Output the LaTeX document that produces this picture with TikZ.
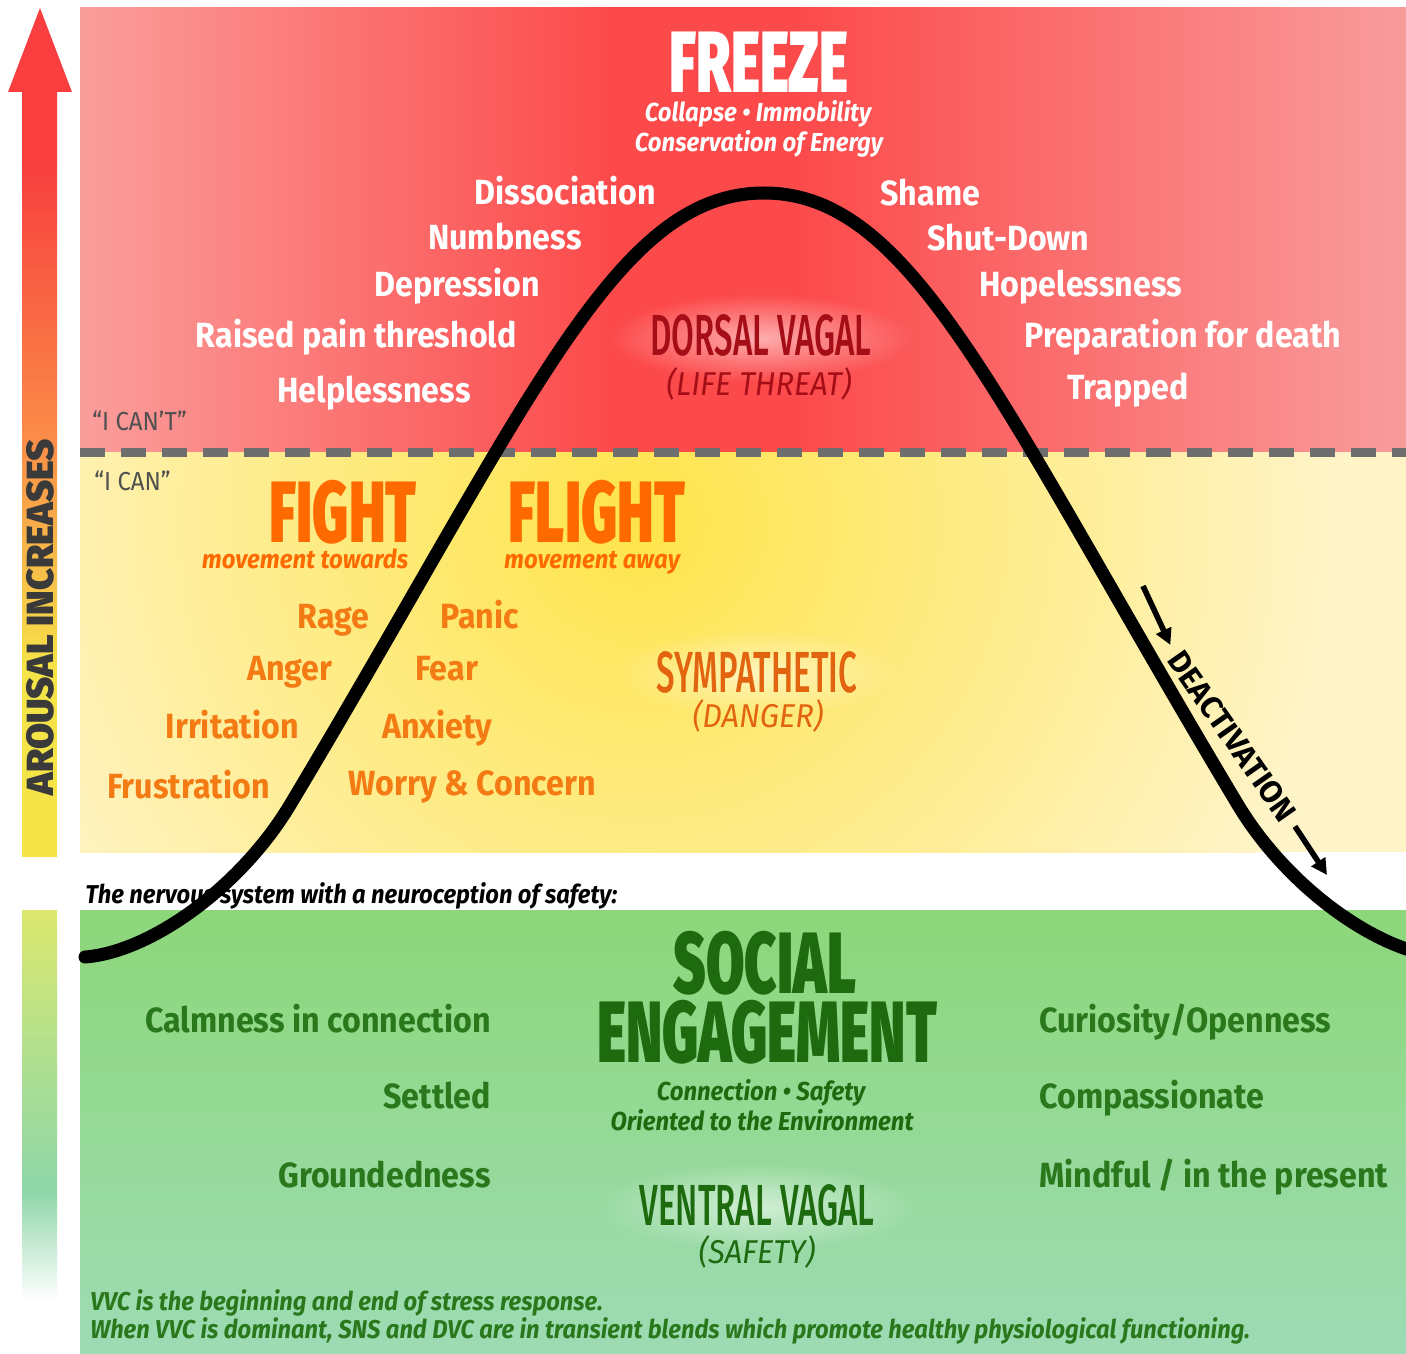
\documentclass[tikz,border=0pt]{standalone}
\usepackage{fontspec}
\setmainfont{Fira Sans}
\newfontfamily\listfont{Fira Sans}[FakeStretch=0.92]
\newfontfamily\heavyfont{Fira Sans Black}[FakeStretch=0.64]
\newfontfamily\vagalfont{Fira Sans Medium}[FakeStretch=0.57]
\newfontfamily\subfont{Fira Sans}[FakeStretch=0.93]
\newfontfamily\arousalfont{Fira Sans Black}
\usepackage{tikz}
\usetikzlibrary{arrows.meta,positioning,calc,fadings}

\definecolor{redSide}{HTML}{FA9E9B}
\definecolor{redCore}{HTML}{FC4A4B}
\definecolor{redSideR}{HTML}{F99C9C}
\definecolor{yelCore}{HTML}{FEE44A}
\definecolor{yelSide}{HTML}{FEF4C8}
\definecolor{grnTop}{HTML}{8DD77A}
\definecolor{grnBot}{HTML}{9DDBB4}
\definecolor{dashGrey}{HTML}{6E6E6E}
\definecolor{canGrey}{HTML}{505050}
\definecolor{dorsalRed}{HTML}{A50E16}
\definecolor{fightOrange}{HTML}{FF6A00}
\definecolor{sympList}{HTML}{F47A14}
\definecolor{sympTitle}{HTML}{E2640F}
\definecolor{calmDark}{HTML}{1D6A0F}
\definecolor{calmText}{HTML}{2A781C}
\definecolor{barRed}{HTML}{F83E3E}
\definecolor{barOrange}{HTML}{FA8A48}
\definecolor{barYellow}{HTML}{F5E448}
\definecolor{barTeal}{HTML}{8ED6A8}
\definecolor{barMid}{HTML}{B4E08C}
\definecolor{barLime}{HTML}{DCE86E}
\definecolor{arousalInk}{HTML}{3A3A3A}

\pgfdeclareverticalshading{arousalbar}{100bp}{color(0bp)=(barYellow); color(36bp)=(barYellow);
  color(50bp)=(barOrange); color(66bp)=(barRed); color(100bp)=(barRed)}
\pgfdeclareverticalshading{calmbar}{100bp}{color(0bp)=(white); color(25bp)=(white);
  color(39bp)=(barTeal); color(58bp)=(barMid); color(75bp)=(barLime); color(100bp)=(barLime)}
\pgfdeclarehorizontalshading{freezeband}{100bp}{color(0bp)=(redSide); color(25bp)=(redSide);
  color(45bp)=(redCore); color(52bp)=(redCore); color(75bp)=(redSideR); color(100bp)=(redSideR)}
\tikzfading[name=glowfade,inner color=transparent!0,outer color=transparent!100]

\begin{document}
\begin{tikzpicture}[x=0.5pt,y=-0.5pt,
  every node/.style={inner sep=0pt},
  arr/.style={line width=2.8pt,-{Triangle[length=8pt,width=8pt]}},
  glow/.style={white,fill opacity=0.55,path fading=glowfade}
]

\tikzstyle{whitelist}=[text=white,font=\listfont\bfseries\fontsize{17.5}{20}\selectfont]
\tikzstyle{orangelist}=[text=sympList,font=\listfont\bfseries\fontsize{17.5}{20}\selectfont]
\tikzstyle{greenlist}=[text=calmText,font=\listfont\bfseries\fontsize{17.5}{20}\selectfont]
\tikzset{bigtitle/.style={font=\heavyfont\fontsize{43.5}{48}\selectfont,anchor=base},
  vagal/.style={font=\vagalfont\fontsize{29}{32}\selectfont,anchor=base},
  vagalsub/.style={font=\subfont\itshape\fontsize{16.5}{19}\selectfont,anchor=base},
  titlesub/.style={font=\listfont\bfseries\itshape\fontsize{13}{15}\selectfont,anchor=base},
  note/.style={font=\listfont\bfseries\itshape\fontsize{12.9}{15}\selectfont,anchor=base west},
  cantext/.style={text=canGrey,font=\listfont\fontsize{13}{15}\selectfont,anchor=base west}}

\useasboundingbox (0,0) rectangle (1406,1353);
\fill[white] (0,0) rectangle (1406,1353);

% side bars
\shade[shading=arousalbar] (40,8) -- (72,92) -- (57,92) -- (57,857) -- (22,857)
  -- (22,92) -- (8,92) -- cycle;
\shade[shading=calmbar] (22,910) rectangle (57,1300);

% zones
\shade[shading=freezeband] (80,8) rectangle (1406,452);
\fill[yelSide] (80,452) rectangle (1406,852);
\begin{scope}
  \clip (80,452) rectangle (1406,852);
  \shade[inner color=yelCore,outer color=yelSide] (640,520) circle[radius=350pt];
\end{scope}
\shade[top color=grnTop,bottom color=grnBot] (80,910) rectangle (1406,1353);
\draw[dashGrey,line width=4.5pt,dash pattern=on 12.5pt off 8pt] (80,452) -- (1406,452);

% soft halos behind the state names
\fill[glow] (761,338) ellipse[x radius=75pt,y radius=22pt];
\fill[glow] (757,673) ellipse[x radius=70pt,y radius=22pt];
\fill[glow] (757,1207) ellipse[x radius=80pt,y radius=22pt];

% the arousal curve
\draw[line width=6.5pt,line cap=round] (85,957) .. controls (150,952) and (240,888) .. (290,805)
  .. controls (530,404) and (614,193) .. (764,193)
  .. controls (914,193) and (998,404) .. (1238,805)
  .. controls (1288,888) and (1378,952) .. (1443,957);

% freeze
\node[bigtitle,text=white] (frz) at (759,93) {FREEZE};
\node[titlesub,text=white] (frz1) at (758,122) {Collapse • Immobility};
\node[titlesub,text=white] (frz2) at (759,152) {Conservation of Energy};

\node[whitelist,anchor=base east] (l1) at (656,205) {Dissociation};
\node[whitelist,anchor=base east] (l2) at (582,250) {Numbness};
\node[whitelist,anchor=base east] (l3) at (540,297) {Depression};
\node[whitelist,anchor=base east] (l4) at (517,348) {Raised pain threshold};
\node[whitelist,anchor=base east] (l5) at (471,402) {Helplessness};

\node[whitelist,anchor=base west] (r1) at (880,206) {Shame};
\node[whitelist,anchor=base west] (r2) at (927,251) {Shut-Down};
\node[whitelist,anchor=base west] (r3) at (979,297) {Hopelessness};
\node[whitelist,anchor=base west] (r4) at (1024,348) {Preparation for death};
\node[whitelist,anchor=base west] (r5) at (1067,399) {Trapped};

\node[vagal,text=dorsalRed] (dv) at (761,355) {DORSAL VAGAL};
\node[vagalsub,text=dorsalRed] (dv1) at (759,395) {(LIFE THREAT)};

\node[cantext] (cant) at (92,430) {“I CAN’T”};
\node[cantext] (can) at (94,490) {“I CAN”};

% fight / flight
\node[bigtitle,text=fightOrange] (fig) at (343,542) {FIGHT};
\node[bigtitle,text=fightOrange] (fli) at (597,542) {FLIGHT};
\node[titlesub,text=fightOrange] (fig1) at (305,568) {movement towards};
\node[titlesub,text=fightOrange] (fli1) at (592,568) {movement away};

\node[orangelist,anchor=base east] (f1) at (370,628) {Rage};
\node[orangelist,anchor=base east] (f2) at (333,680) {Anger};
\node[orangelist,anchor=base east] (f3) at (299,738) {Irritation};
\node[orangelist,anchor=base east] (f4) at (270,798) {Frustration};
\node[orangelist,anchor=base west] (g1) at (440,628) {Panic};
\node[orangelist,anchor=base west] (g2) at (415,680) {Fear};
\node[orangelist,anchor=base west] (g3) at (382,738) {Anxiety};
\node[orangelist,anchor=base west] (g4) at (348,795) {Worry \& Concern};

\node[vagal,text=sympTitle] (sy) at (757,692) {SYMPATHETIC};
\node[vagalsub,text=sympTitle] (sy1) at (758,727) {(DANGER)};

\node[font=\bfseries\fontsize{15.5}{18}\selectfont,rotate=-55] (deact) at (1232,736) {DEACTIVATION};
\coordinate (da) at (1143,586);
\coordinate (db) at (1327,875);
\draw[arr,shorten >=5pt] (da) -- (deact.west);
\draw[arr,shorten <=5pt] (deact.east) -- (db);

\node[font=\arousalfont\fontsize{18.9}{21}\selectfont,text=arousalInk,rotate=90] (aro) at (40,617) {AROUSAL INCREASES};

\node[note] (ns) at (85,903) {The nervous system with a neuroception of safety:};

% social engagement
\node[bigtitle,text=calmDark] (se1) at (765,993) {SOCIAL};
\node[bigtitle,text=calmDark] (se2) at (767,1062) {ENGAGEMENT};
\node[titlesub,text=calmDark] (se3) at (761,1100) {Connection • Safety};
\node[titlesub,text=calmDark] (se4) at (762,1130) {Oriented to the Environment};
\node[vagal,text=calmDark] (vv) at (757,1225) {VENTRAL VAGAL};
\node[vagalsub,text=calmDark] (vv1) at (757,1263) {(SAFETY)};

\node[greenlist,anchor=base east] (c1) at (491,1032) {Calmness in connection};
\node[greenlist,anchor=base east] (c2) at (491,1108) {Settled};
\node[greenlist,anchor=base east] (c3) at (491,1187) {Groundedness};
\node[greenlist,anchor=base west] (o1) at (1039,1032) {Curiosity/Openness};
\node[greenlist,anchor=base west] (o2) at (1039,1108) {Compassionate};
\node[greenlist,anchor=base west] (o3) at (1039,1187) {Mindful / in the present};

\node[note,text=calmText] (vvc1) at (90,1310) {VVC is the beginning and end of stress response.};
\node[note,text=calmText] (vvc2) at (90,1338) {When VVC is dominant, SNS and DVC are in transient blends which promote healthy physiological functioning.};

\end{tikzpicture}
\end{document}
